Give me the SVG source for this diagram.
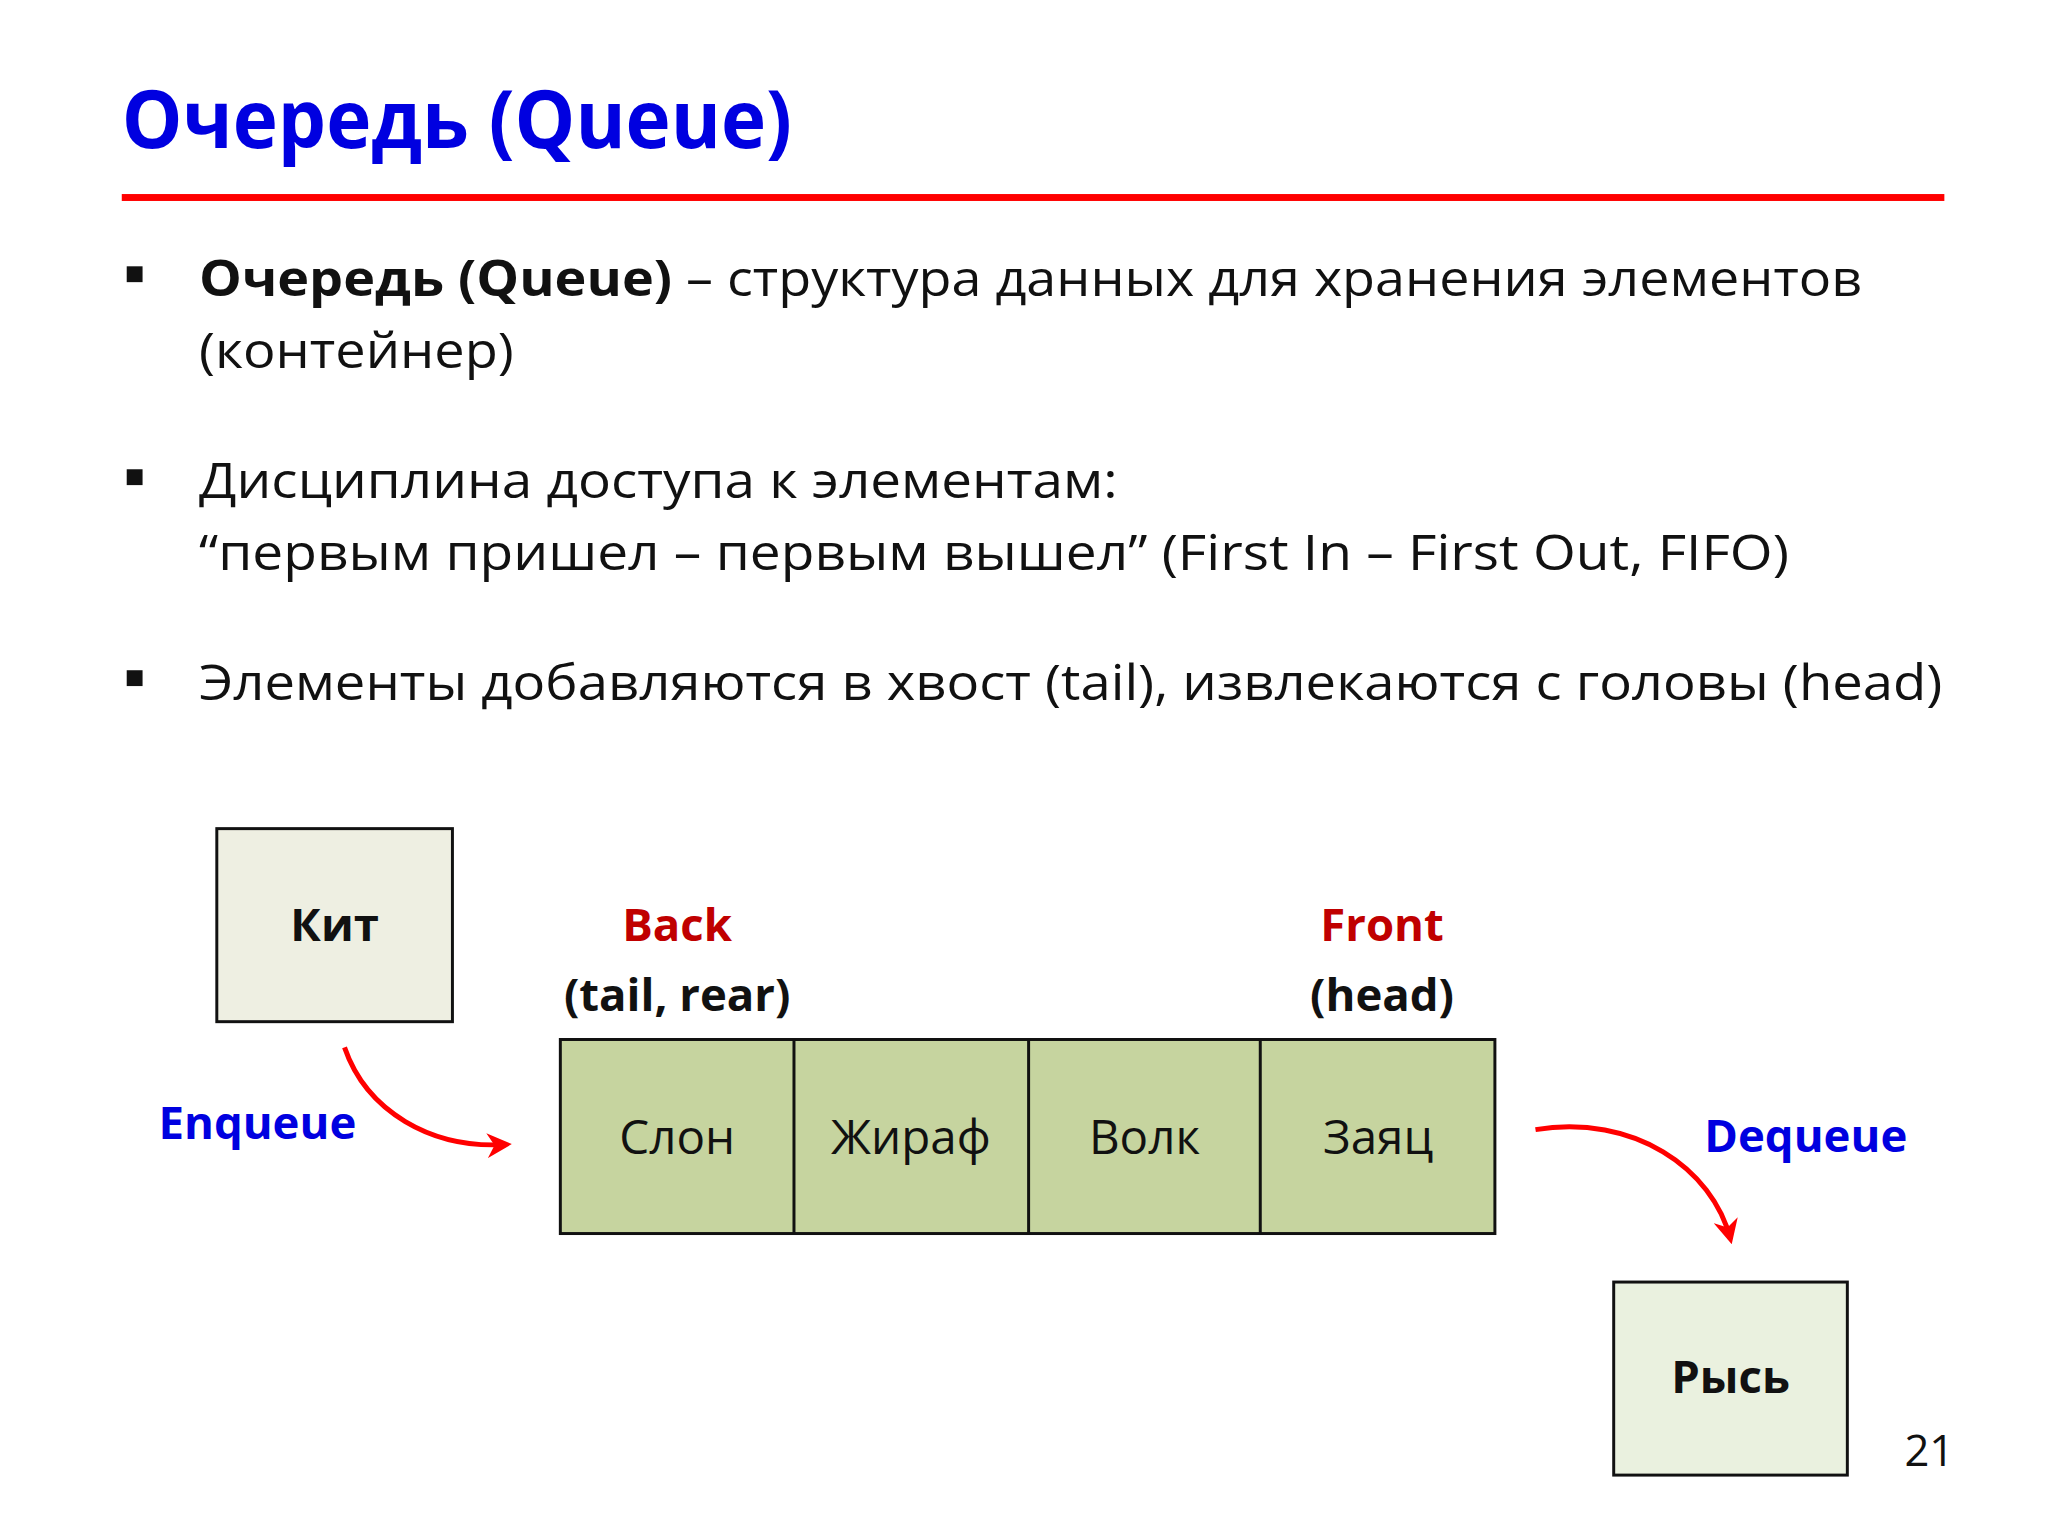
<svg xmlns="http://www.w3.org/2000/svg" width="2048" height="1536" viewBox="0 0 2048 1536">
<defs>
<style>
text{font-family:"Open Sans","Liberation Sans",sans-serif}
.b{font-size:50px;fill:#111}
.bb{font-weight:bold}
.lbl{font-size:46px;font-weight:bold;text-anchor:middle}
.cell{font-size:48px;text-anchor:middle;fill:#111}
.box{stroke:#111;stroke-width:3}
.arr{fill:none;stroke:#f00;stroke-width:5}
</style>
<marker id="ah" viewBox="0 0 10 10" refX="8" refY="5" markerWidth="5" markerHeight="5" orient="auto" markerUnits="strokeWidth"><path d="M0,0 L10,5 L0,10 L3,5 z" fill="#f00"/></marker>
</defs>
<rect width="2048" height="1536" fill="#fff"/>
<g transform="scale(0.99)">
<text x="123" y="150" font-size="82" font-weight="bold" fill="#0000e0" textLength="677" lengthAdjust="spacingAndGlyphs">Очередь (Queue)</text>
<rect x="123" y="196" width="1841" height="7" fill="#f00"/>
<g fill="#111"><rect x="128" y="269" width="16" height="16"/><rect x="128" y="474" width="16" height="16"/><rect x="128" y="677" width="16" height="16"/></g>
<text class="b" x="201" y="299" textLength="1680" lengthAdjust="spacingAndGlyphs"><tspan class="bb">Очередь (Queue)</tspan> – структура данных для хранения элементов</text>
<text class="b" x="201" y="372" textLength="318" lengthAdjust="spacingAndGlyphs">(контейнер)</text>
<text class="b" x="201" y="503" textLength="928" lengthAdjust="spacingAndGlyphs">Дисциплина доступа к элементам:</text>
<text class="b" x="201" y="576" textLength="1606" lengthAdjust="spacingAndGlyphs">“первым пришел – первым вышел” (First In – First Out, FIFO)</text>
<text class="b" x="201" y="707" textLength="1761" lengthAdjust="spacingAndGlyphs">Элементы добавляются в хвост (tail), извлекаются с головы (head)</text>
<g id="kit"><rect class="box" x="219" y="837" width="238" height="195" fill="#eeefe2"/><text class="lbl" x="338" y="951" fill="#111" font-size="42">Кит</text></g>
<g id="back"><text class="lbl" x="684" y="951" fill="#c00000">Back</text><text class="lbl" x="684" y="1021" fill="#111">(tail, rear)</text></g>
<g id="front"><text class="lbl" x="1396" y="951" fill="#c00000">Front</text><text class="lbl" x="1396" y="1021" fill="#111">(head)</text></g>
<g id="queue">
<rect class="box" x="566" y="1050" width="944" height="196" fill="#c6d49f"/>
<path d="M802 1050V1246M1039 1050V1246M1273 1050V1246" stroke="#111" stroke-width="3"/>
<text class="cell" x="684" y="1166">Слон</text><text class="cell" x="920" y="1166">Жираф</text><text class="cell" x="1156" y="1166">Волк</text><text class="cell" x="1392" y="1166">Заяц</text>
</g>
<g id="rys"><rect class="box" x="1630" y="1295" width="236" height="195" fill="#eaf1df"/><text class="lbl" x="1748" y="1407" fill="#111" font-size="42">Рысь</text></g>
<text class="lbl" x="260" y="1151" fill="#0000e0">Enqueue</text>
<text class="lbl" x="1824" y="1164" fill="#0000e0">Dequeue</text>
<g id="connectors">
<path class="arr" d="M348 1058 C370 1122 435 1161 512 1156" marker-end="url(#ah)"/>
<path class="arr" d="M1551 1141 C1650 1125 1730 1180 1748 1252" marker-end="url(#ah)"/>
</g>
<text x="1974" y="1481" font-size="44" text-anchor="end" fill="#111">21</text>
</g>
</svg>
